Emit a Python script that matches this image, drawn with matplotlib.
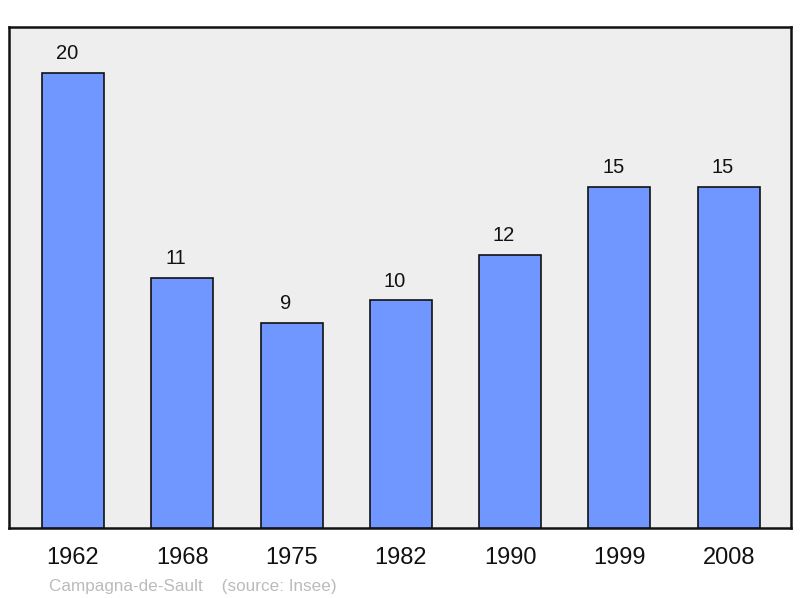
import matplotlib
matplotlib.use("Agg")
import matplotlib.pyplot as plt

years = ["1962", "1968", "1975", "1982", "1990", "1999", "2008"]
population = [20, 11, 9, 10, 12, 15, 15]

plt.rcParams['font.family'] = ['Liberation Sans', 'DejaVu Sans']

fig = plt.figure(figsize=(8, 5.98), dpi=100)
ax = fig.add_axes([9/800, 70/598, 782/800, 501/598])
ax.set_facecolor('#EEEEEE')

x = list(range(len(years)))
bars = ax.bar(x, population, width=0.567, color='#7097FF', edgecolor='#111111', linewidth=1.2, zorder=3)

ax.set_xlim(-0.585, 6.57)
ax.set_ylim(0, 22.02)

for xi, v in zip(x, population):
    ax.annotate(str(v), (xi, v), xytext=(-4.5, 14), textcoords='offset points',
                ha='center', va='center', fontsize=14.5, color='#111111')

ax.set_xticks(x)
ax.set_xticklabels(years, fontsize=17, color='#111111')
ax.tick_params(axis='x', length=0, pad=14)
ax.set_yticks([])

for s in ax.spines.values():
    s.set_linewidth(1.8)
    s.set_color('#111111')

fig.text(49/800, 1 - 586/598, "Campagna-de-Sault    (source: Insee)", fontsize=12.3,
         color='#BBBBBB', ha='left', va='center')

fig.savefig("out.png", dpi=100, facecolor='white')
